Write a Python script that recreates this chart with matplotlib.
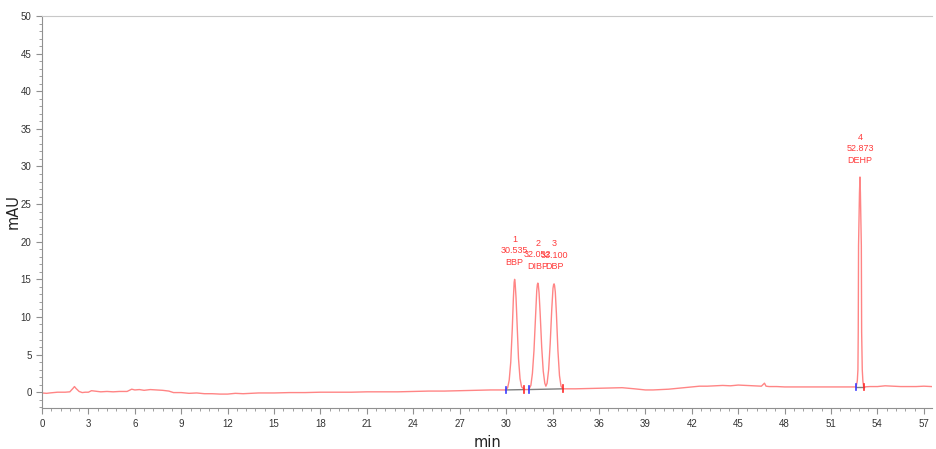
import numpy as np
import matplotlib.pyplot as plt
from matplotlib.ticker import MultipleLocator

# chromatogram trace (time in min, signal in mAU)
base_a_t = [0, 0.3, 0.5, 1.0, 1.5, 1.8, 2.0, 2.1, 2.2, 2.4, 2.6, 2.8, 3.0, 3.2, 3.4, 3.8,
            4.2, 4.6, 5.0, 5.5, 5.8, 6.0, 6.3, 6.6, 7.0, 7.4, 7.8, 8.2, 8.5, 9.0, 9.5,
            10.0, 10.5, 11.0, 11.5, 12.0, 12.5, 13.0, 14.0, 15.0, 16.0, 17.0, 18.0,
            19.0, 20.0, 21.0, 22.0, 23.0, 24.0, 25.0, 26.0, 27.0, 28.0, 29.0]
base_a_y = [-0.1, -0.15, -0.1, 0.0, 0.0, 0.05, 0.5, 0.75, 0.5, 0.1, -0.05, 0.0, 0.0, 0.2,
            0.15, 0.05, 0.1, 0.05, 0.1, 0.1, 0.4, 0.3, 0.35, 0.25, 0.35, 0.3, 0.25, 0.15,
            -0.05, -0.05, -0.15, -0.1, -0.2, -0.2, -0.25, -0.25, -0.15, -0.2, -0.1, -0.1,
            -0.05, -0.05, 0.0, 0.0, 0.0, 0.05, 0.05, 0.05, 0.1, 0.15, 0.15, 0.2, 0.25, 0.3]

peak1_t = [29.97, 30.1, 30.2, 30.3, 30.4, 30.47, 30.52, 30.55, 30.58, 30.64, 30.7, 30.8,
           30.9, 31.0, 31.2, 31.3]
peak1_y = [0.3, 0.6, 1.6, 4.0, 8.5, 12.5, 14.6, 15.0, 14.6, 12.6, 9.5, 4.5, 1.8, 0.7,
           0.35, 0.35]

peak23_t = [31.46, 31.6, 31.7, 31.8, 31.9, 31.98, 32.02, 32.05, 32.08, 32.13, 32.2, 32.3,
            32.4, 32.5, 32.57, 32.65, 32.75, 32.85, 32.95, 33.03, 33.07, 33.10, 33.13,
            33.18, 33.25, 33.35, 33.45, 33.55, 33.68]
peak23_y = [0.35, 0.9, 2.5, 5.5, 10.0, 13.5, 14.3, 14.5, 14.3, 13.2, 10.5, 6.0, 2.8, 1.2,
            0.8, 1.2, 3.0, 6.5, 11.0, 13.8, 14.3, 14.4, 14.2, 13.3, 10.5, 5.5, 2.2, 0.8,
            0.45]

base_b_t = [34.5, 35.5, 36.5, 37.5, 38.3, 39.0, 39.5, 40.5, 41.0, 41.5, 42.0, 42.5, 43.0,
            43.5, 44.0, 44.5, 45.0, 45.5, 46.0, 46.5, 46.7, 46.8, 47.0, 47.5, 48.0, 49.0,
            50.0, 51.0, 52.0]
base_b_y = [0.45, 0.5, 0.55, 0.6, 0.45, 0.3, 0.3, 0.4, 0.5, 0.6, 0.7, 0.8, 0.8, 0.85,
            0.9, 0.85, 0.95, 0.9, 0.85, 0.8, 1.2, 0.8, 0.75, 0.75, 0.7, 0.7, 0.7, 0.7, 0.7]

peak4_t = [52.62, 52.70, 52.74, 52.76, 52.77, 52.78, 52.84, 52.873, 52.90, 52.96, 52.97,
           52.98, 53.02, 53.06, 53.11]
peak4_y = [0.7, 1.5, 3.0, 8.0, 15.0, 19.5, 26.5, 28.6, 26.5, 19.5, 15.0, 8.0, 3.0, 1.5, 0.7]

base_c_t = [53.5, 54.0, 54.5, 55.0, 55.5, 56.0, 56.5, 57.0, 57.5]
base_c_y = [0.75, 0.75, 0.85, 0.8, 0.75, 0.75, 0.75, 0.8, 0.75]

# peak table
peak_no = ['1', '2', '3', '4']
peak_rt = [30.535, 32.052, 33.100, 52.873]
peak_name = ['BBP', 'DIBP', 'DBP', 'DEHP']
peak_x = [30.55, 32.05, 33.10, 52.873]
peak_h = [15.0, 14.5, 14.4, 28.6]

# integration marks (start, end, level)
int_start = [29.97, 31.46, 52.62]
int_end = [31.18, 33.68, 53.11]
int_start_y = [0.3, 0.35, 0.7]
int_end_y = [0.35, 0.45, 0.7]

t = np.concatenate([base_a_t, peak1_t, peak23_t, base_b_t, peak4_t, base_c_t])
y = np.concatenate([base_a_y, peak1_y, peak23_y, base_b_y, peak4_y, base_c_y])

fig = plt.figure(figsize=(9.37, 4.49), dpi=100)
ax = fig.add_axes([0.0448, 0.0913, 0.9499, 0.8731])

ax.plot(t, y, color='#ff8585', lw=1.0)

# integration baselines and markers
for s, e, ys, ye in zip(int_start, int_end, int_start_y, int_end_y):
    ax.plot([s, e], [ys, ye], color='#808080', lw=1.0)
    ax.plot([s, s], [ys - 0.45, ys + 0.45], color='#3a3aff', lw=1.2)
    ax.plot([e, e], [ye - 0.45, ye + 0.45], color='#ff2a2a', lw=1.2)

for n, rt, name, px, ph in zip(peak_no, peak_rt, peak_name, peak_x, peak_h):
    ax.annotate(f'{n}\n{rt:.3f}\n{name}', xy=(px, ph), xytext=(0, 9),
                textcoords='offset points', ha='center', va='bottom',
                fontsize=6.5, family='Liberation Sans', color='#ff3c3c',
                linespacing=1.35)

ax.set_xlim(0, 57.53)
ax.set_ylim(-2.1, 50)
ax.xaxis.set_major_locator(MultipleLocator(3))
ax.xaxis.set_minor_locator(MultipleLocator(0.6))
ax.yaxis.set_major_locator(MultipleLocator(5))
ax.yaxis.set_minor_locator(MultipleLocator(1))

ax.spines['right'].set_visible(False)
ax.spines['top'].set_color('#c8c8c8')
ax.spines['left'].set_color('#909090')
ax.spines['bottom'].set_color('#909090')
ax.tick_params(which='major', length=4, color='#909090', labelsize=7, labelcolor='#333333')
ax.tick_params(which='minor', length=2.5, color='#909090')
ax.tick_params(axis='x', pad=4)
for lbl in ax.get_xticklabels() + ax.get_yticklabels():
    lbl.set_family('Liberation Sans')

ax.set_xlabel('min', fontsize=10.5, color='#222222', labelpad=4)
ax.set_ylabel('mAU', fontsize=10.5, color='#222222')
ax.yaxis.set_label_coords(-0.024, 0.5)

fig.savefig('out.png', dpi=100)
